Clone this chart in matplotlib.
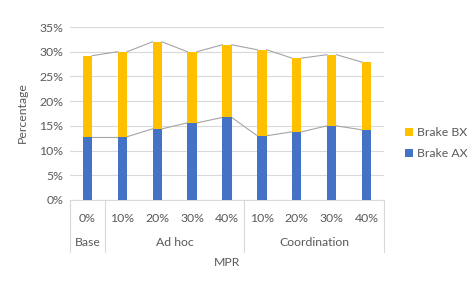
import numpy as np
import matplotlib.pyplot as plt
from matplotlib.ticker import PercentFormatter

mpr_labels = ["0%", "10%", "20%", "30%", "40%", "10%", "20%", "30%", "40%"]
groups = ["Base", "Ad hoc", "Coordination"]
group_sizes = [1, 4, 4]
brake_ax = [12.8, 12.8, 14.4, 15.6, 16.7, 13.0, 13.8, 15.0, 14.2]
brake_bx = [16.4, 17.2, 17.6, 14.4, 14.7, 17.4, 14.9, 14.4, 13.7]

plt.rcParams['font.family'] = ['Lato', 'DejaVu Sans']
txt = '#595959'
grid = '#D9D9D9'
fs = 8.8

fig = plt.figure(figsize=(4.75, 2.82), dpi=100)
W, H = 475, 282
left, right, top, bottom = 70, 384, 27, 200
ax = fig.add_axes([left / W, 1 - bottom / H, (right - left) / W, (bottom - top) / H])

x = np.arange(len(mpr_labels))
a = np.array(brake_ax) / 100
b = np.array(brake_bx) / 100
w = 0.27
ax.bar(x, a, w, color='#4472C4', label='Brake AX', zorder=3)
ax.bar(x, b, w, bottom=a, color='#FFC000', label='Brake BX', zorder=3)

# series lines between bars
tot = a + b
for i in range(len(x) - 1):
    for s in (a, tot):
        ax.plot([x[i] + w / 2, x[i + 1] - w / 2], [s[i], s[i + 1]],
                color='#A5A5A5', lw=0.8, zorder=2)

ax.set_xlim(-0.5, len(x) - 0.5)
ax.set_ylim(0, 0.35)
ax.set_yticks(np.arange(0, 0.36, 0.05))
ax.yaxis.set_major_formatter(PercentFormatter(1.0, decimals=0))
ax.grid(axis='y', color=grid, lw=0.8, zorder=0)
for sp in ['top', 'right', 'left']:
    ax.spines[sp].set_visible(False)
ax.spines['bottom'].set_color(grid)
ax.tick_params(axis='y', length=0, labelsize=fs, colors=txt, pad=5)
ax.set_xticks([])

# multi-level category axis
tr = ax.get_xaxis_transform()
h = bottom - top
for i, lab in enumerate(mpr_labels):
    ax.text(x[i], -18 / h, lab, transform=tr, ha='center', va='center',
            fontsize=fs, color=txt)
edges = [-0.5]
for n in group_sizes:
    edges.append(edges[-1] + n)
for g, lo, hi in zip(groups, edges[:-1], edges[1:]):
    ax.text((lo + hi) / 2, -43 / h, g, transform=tr, ha='center', va='center',
            fontsize=fs, color=txt)
for e in edges:
    ax.plot([e, e], [0, -52 / h], transform=tr, color=grid, lw=0.8, clip_on=False)

ax.text(0.5, -63 / h, "MPR", transform=ax.transAxes, ha='center', va='center',
        fontsize=fs, color=txt)
fig.text(22 / W, 1 - 113 / H, "Percentage", rotation=90, ha='center', va='center',
         fontsize=fs, color=txt)

handles, labels = ax.get_legend_handles_labels()
fig.legend(handles[::-1], labels[::-1], loc='center left',
           bbox_to_anchor=(394 / W, 1 - 143 / H), frameon=False,
           handlelength=0.65, handleheight=0.65, handletextpad=0.3,
           labelspacing=0.8, fontsize=fs, labelcolor=txt)

fig.savefig('out.png', dpi=100)
